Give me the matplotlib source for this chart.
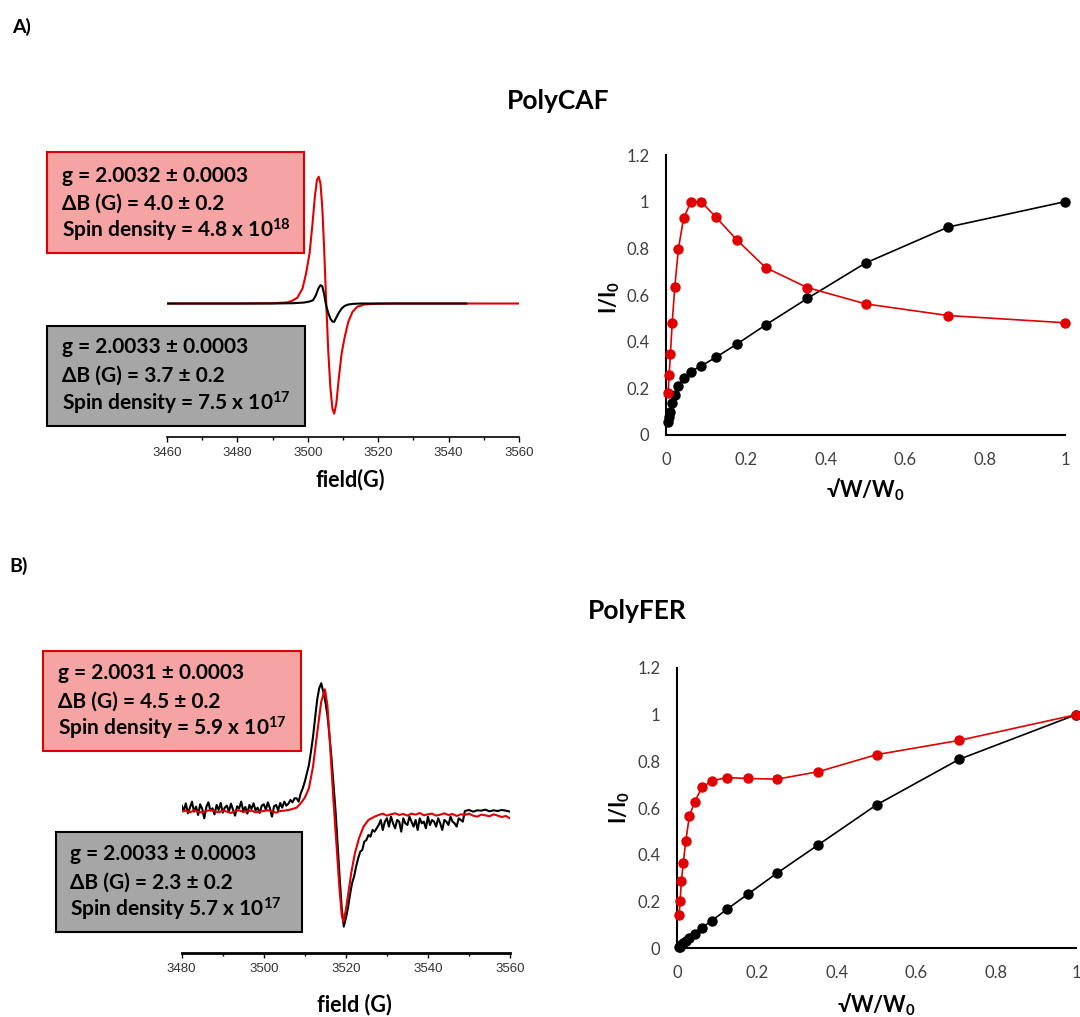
import numpy as np
import matplotlib
matplotlib.use('Agg')
import matplotlib.pyplot as plt
from matplotlib.patches import Rectangle

plt.rcParams['font.family'] = ['Lato', 'DejaVu Sans']
plt.rcParams['mathtext.fontset'] = 'custom'
plt.rcParams['mathtext.rm'] = 'Lato'
plt.rcParams['mathtext.bf'] = 'Lato:bold'
plt.rcParams['mathtext.default'] = 'regular'

RED = '#E00000'

# ---- power saturation data (sqrt(W/W0) vs I/I0) ----
sat_x = [1, 0.707, 0.5, 0.354, 0.25, 0.177, 0.125, 0.088, 0.0625, 0.044,
         0.031, 0.022, 0.0156, 0.011, 0.0078, 0.0055]
caf_black = [1.0, 0.891, 0.737, 0.585, 0.472, 0.389, 0.333, 0.296, 0.272, 0.245,
             0.21, 0.17, 0.135, 0.10, 0.075, 0.055]
caf_red = [0.481, 0.512, 0.562, 0.632, 0.717, 0.837, 0.934, 1.0, 1.0, 0.928,
           0.797, 0.635, 0.481, 0.346, 0.255, 0.182]
fer_black = [1.0, 0.809, 0.614, 0.443, 0.321, 0.231, 0.167, 0.119, 0.089, 0.063,
             0.046, 0.031, 0.021, 0.013, 0.007, 0.004]
fer_red = [1.0, 0.89, 0.829, 0.756, 0.724, 0.727, 0.731, 0.717, 0.689, 0.626,
           0.566, 0.46, 0.364, 0.287, 0.204, 0.143]

# ---- EPR spectra, PolyCAF (arbitrary units) ----
caf_red_field = [3460, 3470, 3480, 3490, 3494, 3495.5, 3497, 3498.5, 3499.5, 3500.5,
                 3501.3, 3502, 3502.6, 3503.1, 3503.6, 3504.1, 3504.6, 3505.2, 3505.8,
                 3506.4, 3507, 3507.5, 3508.1, 3508.8, 3509.6, 3510.5, 3511.5, 3512.7,
                 3514, 3516, 3519, 3525, 3540, 3560]
caf_red_amp = [0, 0, 0, 1, 3, 8, 17, 45, 90, 150,
               235, 320, 370, 380, 360, 290, 175, 10, -140,
               -250, -315, -330, -300, -225, -150, -100, -55, -25,
               -10, -3, -1, 0, 0, 0]
caf_black_field = [3459, 3470, 3480, 3490, 3496, 3499, 3500.5, 3501.5, 3502.3, 3503,
                   3503.6, 3504.1, 3504.6, 3505.2, 3505.8, 3506.4, 3507, 3507.5, 3508.1,
                   3508.8, 3509.6, 3510.5, 3511.5, 3513, 3515, 3520, 3530, 3545]
caf_black_amp = [0, 0, 0, 0, 1, 3, 6, 10, 25, 45,
                 55, 52, 30, -5, -28, -45, -54, -55, -42,
                 -28, -15, -7, -3, -1, 0, 0, 0, 0]

# ---- EPR spectra, PolyFER (arbitrary units) ----
fer_red_left = [0, 3, -2, 4, 0, -3, 2, 5, 1, -2, 3, 0, -4, 2, 4, -1, 1, 3, -2, 0,
                2, 4, 1, -3, 2, 3, 5, 8]
fer_red_sig_field = [3508, 3509, 3510, 3511, 3512, 3513, 3514, 3514.9, 3515.5, 3516,
                     3516.5, 3517, 3517.5, 3518, 3518.5, 3519, 3519.4, 3520, 3520.6,
                     3521.3, 3522.2, 3523.2, 3524.3, 3525.5, 3527]
fer_red_sig = [12, 25, 42, 70, 135, 235, 330, 367, 320, 230,
               130, 30, -60, -150, -240, -310, -330, -295, -245,
               -185, -125, -80, -45, -25, -15]
fer_red_right = [-10, -6, -12, -8, -5, -10, -7, -12, -6, -9, -4, -11, -8, -6, -12, -9,
                 -5, -10, -7, -13, -8, -10, -6, -12, -15, -9, -11, -14, -8, -12, -16, -13, -20]

fer_black_left = [18, 2, 25, -5, 12, 30, 0, 15, -10, 22, 8, -20, 14, 28, 3, 10, -8, 20,
                  5, 26, -3, 12, 18, 0, 24, 6, -12, 16, 10, 30, 2, 14, -6, 20, 8, 25,
                  4, 12, -4, 18, 22, 6, 28, 10, -15, 16, 20, 4, 26, 12, 30, 18, 24, 35, 28, 40]
fer_black_sig = [40, 30, 55, 70, 90, 115, 140, 180, 225, 280, 335, 370, 385, 360, 330,
                 290, 230, 160, 80, 0, -100, -200, -290, -345, -320, -290, -250, -215,
                 -195, -165, -140, -120, -115, -90, -85, -70, -75, -55, -60, -50]
fer_black_right = [-40, -25, -55, -30, -20, -45, -15, -35, -50, -25, -30, -60, -20, -35,
                   -40, -15, -30, -45, -25, -55, -20, -35, -30, -50, -15, -40, -25, -30,
                   -45, -20, -35, -55, -25, -30, -40, -15, -30, -35, -45, -20, -25, -30]
fer_black_tail = [2, 5, 0, 4, 3, 6, 1, 4, 2, 5, 3, 0]

fer_red_field = list(np.arange(3480, 3508)) + fer_red_sig_field + list(np.arange(3528, 3561))
fer_red_amp = fer_red_left + fer_red_sig + fer_red_right
fer_black_field = (list(np.arange(3480, 3508, 0.5)) + list(np.arange(3508, 3528, 0.5))
                   + list(np.arange(3528, 3549, 0.5)) + list(np.arange(3549, 3561)))
fer_black_amp = fer_black_left + fer_black_sig + fer_black_right + fer_black_tail

caf_box_red = ['g = 2.0032 ± 0.0003', 'ΔB (G) = 4.0 ± 0.2', 'Spin density = 4.8 x 10$^{18}$']
caf_box_gray = ['g = 2.0033 ± 0.0003', 'ΔB (G) = 3.7 ± 0.2', 'Spin density = 7.5 x 10$^{17}$']
fer_box_red = ['g = 2.0031 ± 0.0003', 'ΔB (G) = 4.5 ± 0.2', 'Spin density = 5.9 x 10$^{17}$']
fer_box_gray = ['g = 2.0033 ± 0.0003', 'ΔB (G) = 2.3 ± 0.2', 'Spin density 5.7 x 10$^{17}$']

W, H = 1080, 1017
fig = plt.figure(figsize=(10.8, 10.17), dpi=100)


def rect(x0, y0, x1, y1):
    return [x0 / W, 1 - y1 / H, (x1 - x0) / W, (y1 - y0) / H]


def ptext(x, y, s, **kw):
    fig.text(x / W, 1 - y / H, s, **kw)


def epr_panel(r, xlim, ylim, lw_axis):
    ax = fig.add_axes(r)
    ax.patch.set_visible(False)
    ax.set_xlim(*xlim)
    ax.set_ylim(*ylim)
    for s in ['left', 'right', 'top']:
        ax.spines[s].set_visible(False)
    ax.spines['bottom'].set_linewidth(lw_axis)
    ax.set_yticks([])
    ax.set_xticks(np.arange(xlim[0], xlim[1] + 1, 20))
    ax.set_xticks(np.arange(xlim[0], xlim[1] + 1, 10), minor=True)
    ax.tick_params(axis='x', which='major', direction='out', length=3.5, width=1,
                   pad=3.5, labelsize=9.5, labelcolor='#333333')
    ax.tick_params(axis='x', which='minor', direction='out', length=1.8, width=1)
    for lbl in ax.get_xticklabels():
        lbl.set_fontfamily('Liberation Sans')
    return ax


def info_box(x0, y0, x1, y1, face, edge, lines, tx, baselines):
    fig.add_artist(Rectangle((x0 / W, 1 - y1 / H), (x1 - x0) / W, (y1 - y0) / H,
                             transform=fig.transFigure, facecolor=face,
                             edgecolor=edge, linewidth=1.5))
    for s, by in zip(lines, baselines):
        ptext(tx, by, s, fontsize=15, fontweight='bold', va='baseline', ha='left')


def sat_panel(r, black, red):
    ax = fig.add_axes(r)
    ax.plot(sat_x, black, '-o', color='black', ms=6.5, lw=1.2, clip_on=False, zorder=3)
    ax.plot(sat_x, red, '-o', color=RED, ms=6.5, lw=1.2, clip_on=False, zorder=4)
    ax.set_xlim(0, 1)
    ax.set_ylim(0, 1.2)
    ax.set_xticks([0, 0.2, 0.4, 0.6, 0.8, 1])
    ax.set_xticklabels(['0', '0.2', '0.4', '0.6', '0.8', '1'])
    ax.set_yticks([0, 0.2, 0.4, 0.6, 0.8, 1, 1.2])
    ax.set_yticklabels(['0', '0.2', '0.4', '0.6', '0.8', '1', '1.2'])
    for s in ['right', 'top']:
        ax.spines[s].set_visible(False)
    for s in ['left', 'bottom']:
        ax.spines[s].set_linewidth(1.5)
    ax.tick_params(length=0, pad=12, labelsize=12, labelcolor='#404040')
    return ax


# ---- A) PolyCAF ----
ptext(22, 27, 'A)', fontsize=14, fontweight='bold', ha='center', va='center')
ptext(558, 109, 'PolyCAF', fontsize=19, fontweight='bold', ha='center', va='baseline')

ax1 = epr_panel(rect(167, 150, 519, 437), (3460, 3560), (-400, 460), 1.2)
ax1.plot(caf_red_field, caf_red_amp, color=RED, lw=1.5)
ax1.plot(caf_black_field, caf_black_amp, color='black', lw=1.5)
ptext(350, 480, 'field(G)', fontsize=15.5, fontweight='bold', ha='center', va='center')

info_box(47, 152, 304, 253, '#F5A3A3', RED, caf_box_red, 62, [182, 210, 238])
info_box(47, 326, 305, 426, '#A6A6A6', 'black', caf_box_gray, 62, [353, 381.5, 410])

sat_panel(rect(666, 155, 1065, 435), caf_black, caf_red)
ptext(610, 297, 'I/I$_0$', fontsize=15.5, fontweight='bold', rotation=90, ha='center', va='center')
ptext(866, 490, '√W/W$_0$', fontsize=15.5, fontweight='bold', ha='center', va='center')

# ---- B) PolyFER ----
ptext(19, 566, 'B)', fontsize=14, fontweight='bold', ha='center', va='center')
ptext(637, 619, 'PolyFER', fontsize=19, fontweight='bold', ha='center', va='baseline')

ax3 = epr_panel(rect(181.7, 670, 510, 953.3), (3480, 3560), (-425, 425), 2)
ax3.plot(fer_black_field, fer_black_amp, color='black', lw=1.5)
ax3.plot(fer_red_field, fer_red_amp, color=RED, lw=1.5)
ptext(354, 1005, 'field (G)', fontsize=15.5, fontweight='bold', ha='center', va='center')

info_box(43, 651, 301, 751, '#F5A3A3', RED, fer_box_red, 58, [679, 707.7, 736])
info_box(56, 832, 302, 932, '#A6A6A6', 'black', fer_box_gray, 70, [860, 888.3, 916.7])

sat_panel(rect(677, 668, 1076, 948.3), fer_black, fer_red)
ptext(620, 807, 'I/I$_0$', fontsize=15.5, fontweight='bold', rotation=90, ha='center', va='center')
ptext(877, 1005, '√W/W$_0$', fontsize=15.5, fontweight='bold', ha='center', va='center')

plt.savefig('out.png', dpi=100)
